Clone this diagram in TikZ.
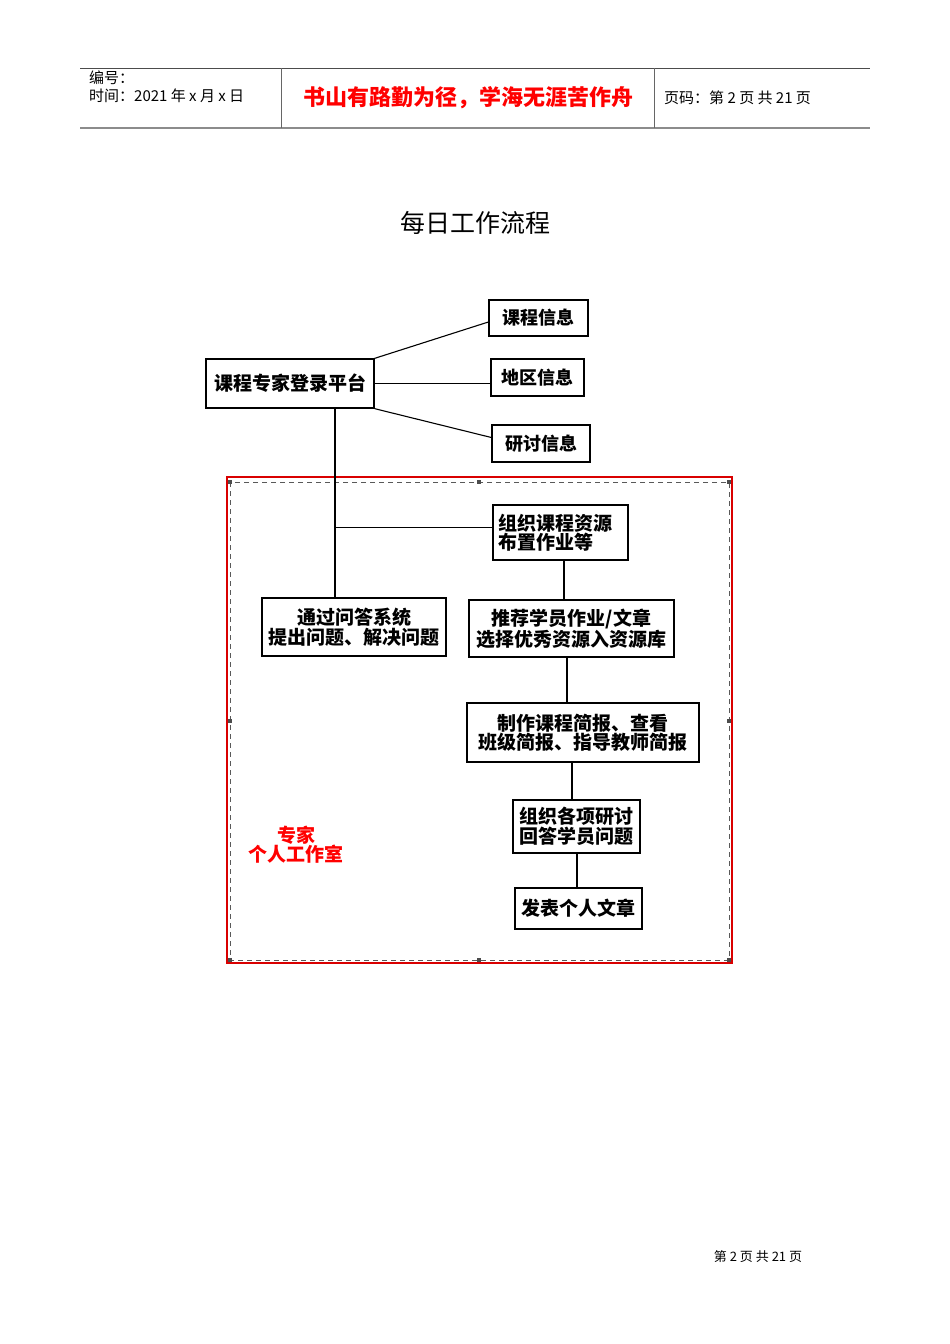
\documentclass[tikz,border=0pt]{standalone}
\usepackage{fontspec}
\newfontfamily\cjk{Noto Sans CJK SC}
\setmainfont{Noto Sans CJK SC}
\begin{document}
\begin{tikzpicture}[x=1pt,y=-1pt,
  box/.style={draw=black,line width=1.3pt,inner sep=0pt,font=\cjk\bfseries\fontsize{19}{19.5}\selectfont,align=center},
  conn/.style={draw=black,line width=1.1pt},
  hdr/.style={inner sep=0pt,anchor=west,font=\cjk\fontsize{15}{17}\selectfont},
  handle/.style={fill=black!70,draw=none,minimum size=3.5pt,inner sep=0pt}]
\useasboundingbox[fill=white] (0,0) rectangle (950,1344);
% header
\coordinate (hl1) at (80,68);
\coordinate (hr1) at (870,68);
\coordinate (hl2) at (80,128);
\coordinate (hr2) at (870,128);
\draw[line width=0.8pt,black!70] (hl1) -- (hr1);
\draw[line width=1.6pt,black!45] (hl2) -- (hr2);
\coordinate (d1t) at (281,68); \coordinate (d1b) at (281,128);
\coordinate (d2t) at (654,68); \coordinate (d2b) at (654,128);
\draw[line width=0.8pt,black!60] (d1t) -- (d1b);
\draw[line width=0.8pt,black!60] (d2t) -- (d2b);
\node[hdr] (bh) at (89,78) {编号：};
\node[hdr] (sj) at (89,96) {时间：2021 年 x 月 x 日};
\node[inner sep=0pt,text=red,font=\cjk\bfseries\fontsize{22}{24}\selectfont] (motto) at (468,98) {书山有路勤为径，学海无涯苦作舟};
\node[hdr] (ym) at (664,98) {页码：第 2 页 共 21 页};
% title
\node[inner sep=0pt,font=\cjk\fontsize{25}{27}\selectfont] (title) at (475,223) {每日工作流程};
% frames
\draw[red!85!black,line width=1.4pt] (227,477) rectangle (732,963);
\draw[black!65,line width=0.9pt,dash pattern=on 5pt off 4pt] (230,482) rectangle (729,960);
\foreach \p [count=\i] in {(230,482),(479,482),(729,482),(230,721),(729,721),(230,960),(479,960),(729,960)}
  \node[handle] (h\i) at \p {};
% boxes
\node[box,minimum width=168pt,minimum height=49pt] (plat) at (290,383.5) {课程专家登录平台};
\node[box,minimum width=99pt,minimum height=36pt,font=\cjk\bfseries\fontsize{18}{19}\selectfont] (kc) at (538.5,318) {课程信息};
\node[box,minimum width=93pt,minimum height=37pt,font=\cjk\bfseries\fontsize{18}{19}\selectfont] (dq) at (537.5,377.5) {地区信息};
\node[box,minimum width=98pt,minimum height=37pt,font=\cjk\bfseries\fontsize{18}{19}\selectfont] (yt) at (541,443.5) {研讨信息};
\node[box,minimum width=135pt,minimum height=55pt,align=left,text width=125pt] (zz) at (560.5,532.5) {组织课程资源\\布置作业等};
\node[box,minimum width=184pt,minimum height=58pt] (qa) at (354,627) {通过问答系统\\提出问题、解决问题};
\node[box,minimum width=205pt,minimum height=57pt] (tj) at (571.5,628.5) {推荐学员作业/文章\\选择优秀资源入资源库};
\node[box,minimum width=232pt,minimum height=59pt] (jb) at (583,732.5) {制作课程简报、查看\\班级简报、指导教师简报};
\node[box,minimum width=127pt,minimum height=53pt] (yt2) at (576.5,826.5) {组织各项研讨\\回答学员问题};
\node[box,minimum width=127pt,minimum height=41pt] (fb) at (578.5,908.5) {发表个人文章};
% connectors
\draw[conn] (plat.north east) -- ([yshift=-4pt]kc.west);
\draw[conn] (plat.east) -- (dq.west |- plat.east);
\draw[conn] (plat.south east) -- ([yshift=6pt]yt.west);
\coordinate (vx) at (335,0);
\draw[conn] (plat.south -| vx) -- (qa.north -| vx);
\draw[conn] ([yshift=5pt]zz.west -| vx) -- ([yshift=5pt]zz.west);
\coordinate (v1) at (564,0);
\draw[conn] (zz.south -| v1) -- (tj.north -| v1);
\coordinate (v2) at (567,0);
\draw[conn] (tj.south -| v2) -- (jb.north -| v2);
\coordinate (v3) at (572,0);
\draw[conn] (jb.south -| v3) -- (yt2.north -| v3);
\coordinate (v4) at (577,0);
\draw[conn] (yt2.south -| v4) -- (fb.north -| v4);
% red label
\node[inner sep=0pt,text=red,font=\cjk\bfseries\fontsize{19}{19}\selectfont,align=center] (lab) at (296,845) {专家\\个人工作室};
% footer
\node[inner sep=0pt,font=\cjk\fontsize{13}{15}\selectfont] (foot) at (758,1257) {第 2 页 共 21 页};
\end{tikzpicture}
\end{document}
